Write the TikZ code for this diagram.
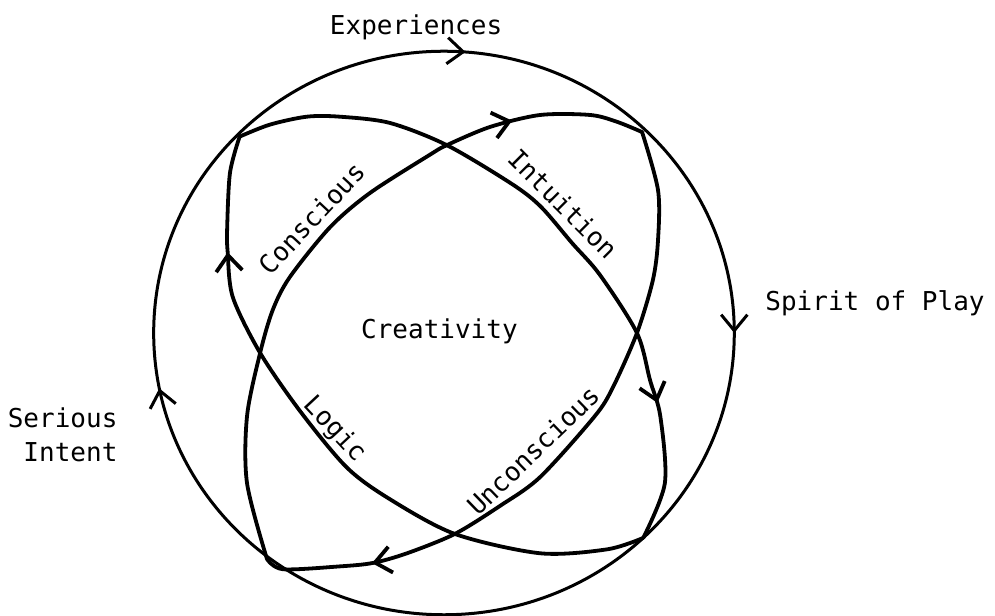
\documentclass[tikz,border=0pt]{standalone}
\usepackage{fontspec}
\setmainfont{DejaVu Sans Mono}
\usetikzlibrary{arrows.meta,decorations.markings}
\definecolor{ink}{HTML}{000000}
\tikzset{
  rim/.style={draw=ink,line width=1.5pt,line cap=round},
  lens/.style={draw=ink,line width=1.9pt,line cap=round,line join=round,
               smooth},
  barbat/.style={postaction={decorate,decoration={markings,
                 mark=at position #1 with
                 {\arrow{Straight Barb[length=2.8mm,width=4.6mm]}}}}},
  lbl/.style={font=\fontsize{13}{17}\selectfont,text=ink,inner sep=0pt}
}

\begin{document}
\begin{tikzpicture}[x=1cm,y=1cm]
  \path[use as bounding box] (-7.80,-4.97) rectangle (9.68,5.85);

  % outer ring, clockwise from the left
  \draw[rim,barbat=0.262,barbat=0.5,barbat=0.969]
    (-5.10,0) arc[start angle=180,end angle=-180,x radius=5.10,y radius=4.95];

  % lens from upper left to lower right
  \draw[lens,barbat=0.80] plot coordinates {
    (-3.59,3.45) (-3.06,3.66) (-2.41,3.80) (-1.83,3.80) (-0.95,3.69)
    (0.05,3.30) (1.19,2.62) (1.70,2.22) (2.25,1.58) (2.74,1.02)
    (3.39,0.00) (3.62,-0.83) (3.80,-1.46) (3.88,-2.64) (3.50,-3.60)};
  \draw[lens,barbat=0.83] plot coordinates {
    (3.50,-3.60) (2.87,-3.80) (1.69,-3.87) (0.19,-3.53) (-0.95,-2.92)
    (-1.71,-2.36) (-2.53,-1.37) (-3.23,-0.35) (-3.71,0.63) (-3.80,1.42)
    (-3.81,1.81) (-3.76,2.81) (-3.59,3.45)};

  % lens from lower left to upper right
  \draw[lens,barbat=0.81] plot coordinates {
    (-3.11,-3.97) (-3.46,-2.64) (-3.46,-1.46) (-3.23,-0.35) (-3.01,0.40)
    (-2.71,0.98) (-2.00,1.86) (-1.30,2.46) (-0.25,3.13) (0.05,3.30)
    (0.81,3.62) (1.69,3.83) (2.57,3.83) (3.04,3.71) (3.48,3.53)};
  \draw[lens,barbat=0.84] plot coordinates {
    (3.48,3.53) (3.76,2.51) (3.76,1.63) (3.67,0.93) (3.39,0.00)
    (2.97,-0.95) (2.65,-1.46) (1.69,-2.53) (0.98,-3.04) (0.19,-3.53)
    (-0.65,-3.87) (-1.25,-4.04) (-1.83,-4.10) (-2.83,-4.15) (-3.11,-3.97)};

  \node[lbl,anchor=base] (experiences) at (-0.49,5.24) {Experiences};
  \node[lbl,anchor=base west] (play) at (5.64,0.40) {Spirit of Play};
  \node[lbl,align=right,anchor=north east] (intent) at (-5.73,-1.31)
    {Serious\\Intent};
  \node[lbl,anchor=base] (creativity) at (-0.08,-0.09) {Creativity};

  \node[lbl,rotate=47] (conscious) at (-2.32,2.02) {Conscious};
  \node[lbl,rotate=-45] (intuition) at (2.10,2.27) {Intuition};
  \node[lbl,rotate=-47] (logic) at (-1.92,-1.70) {Logic};
  \node[lbl,rotate=44,anchor=base] (unconscious) at (1.69,-2.18)
    {Unconscious};
\end{tikzpicture}
\end{document}
